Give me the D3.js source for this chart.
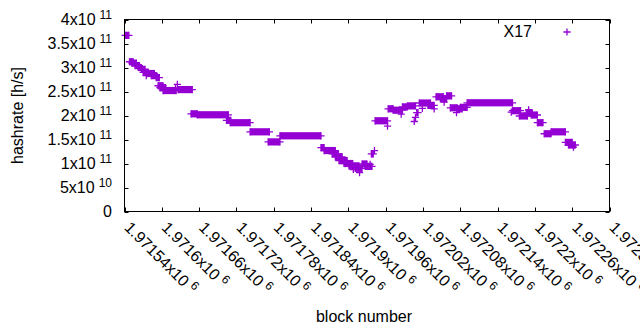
<!DOCTYPE html>
<html>
<head>
<meta charset="utf-8">
<script src="https://cdn.jsdelivr.net/npm/d3@7"></script>
<style>
  body { margin: 0; background: #fff; }
  text { font-family: "Liberation Sans", Arial, sans-serif; fill: #000; }
</style>
</head>
<body>
<svg id="chart"></svg>
<script>
// runs of blocks that share the same hashrate estimate (start block, end block, value)
const runStart = [1971541, 1971548, 1971552, 1971557, 1971562, 1971567, 1971570, 1971575, 1971577, 1971583,
  1971591, 1971594, 1971597, 1971602, 1971625, 1971622, 1971626, 1971647, 1971657, 1971704,
  1971710, 1971742, 1971771, 1971790, 1971856, 1971861, 1971874, 1971879, 1971885, 1971893,
  1971901, 1971908, 1971911, 1971918, 1971922, 1971927, 1971935, 1971937, 1971942, 1971943,
  1971963, 1971964, 1971972, 1971985, 1971987, 1971995, 1972006, 1972008, 1972010, 1972019,
  1972014, 1972028, 1972038, 1972041, 1972048, 1972054, 1972058, 1972064, 1972074, 1972075,
  1972080, 1972091, 1972164, 1972162, 1972175, 1972186, 1972190, 1972194, 1972204, 1972215,
  1972226, 1972249, 1972254, 1972262];
const runEnd = [1971547, 1971554, 1971559, 1971564, 1971567, 1971573, 1971578, 1971575, 1971588, 1971591,
  1971596, 1971602, 1971606, 1971623, 1971625, 1971622, 1971649, 1971657, 1971707, 1971711,
  1971742, 1971773, 1971790, 1971856, 1971861, 1971879, 1971884, 1971890, 1971898, 1971907,
  1971917, 1971908, 1971922, 1971918, 1971930, 1971938, 1971935, 1971940, 1971942, 1971963,
  1971963, 1971972, 1971987, 1971985, 1971995, 1972008, 1972006, 1972008, 1972012, 1972019,
  1972032, 1972038, 1972038, 1972053, 1972058, 1972054, 1972066, 1972075, 1972074, 1972083,
  1972091, 1972164, 1972177, 1972162, 1972188, 1972196, 1972190, 1972204, 1972213, 1972226,
  1972249, 1972260, 1972265, 1972262];
const hashrate = [3.67e11, 3.12e11, 3.09e11, 3.04e11, 3.00e11, 2.96e11, 2.90e11, 2.83e11, 2.875e11, 2.83e11,
  2.79e11, 2.62e11, 2.58e11, 2.52e11, 2.65e11, 2.56e11, 2.54e11, 2.035e11, 2.015e11, 1.90e11,
  1.85e11, 1.66e11, 1.45e11, 1.577e11, 1.33e11, 1.27e11, 1.20e11, 1.14e11, 1.06e11, 1.00e11,
  0.95e11, 0.875e11, 0.90e11, 0.81e11, 0.99e11, 0.94e11, 0.98e11, 1.20e11, 1.27e11, 1.89e11,
  1.78e11, 2.14e11, 2.11e11, 2.03e11, 2.18e11, 2.20e11, 1.875e11, 1.96e11, 2.06e11, 2.15e11,
  2.26e11, 2.21e11, 2.14e11, 2.39e11, 2.35e11, 2.28e11, 2.41e11, 2.16e11, 2.06e11, 2.14e11,
  2.17e11, 2.265e11, 2.10e11, 2.07e11, 1.99e11, 2.05e11, 2.12e11, 2.01e11, 1.85e11, 1.62e11,
  1.66e11, 1.44e11, 1.385e11, 1.34e11];

const xTicks = [1971540, 1971600, 1971660, 1971720, 1971780, 1971840, 1971900, 1971960, 1972020,
  1972080, 1972140, 1972200, 1972260, 1972320];
const xTickLabels = ["1.97154x10^6", "1.9716x10^6", "1.97166x10^6", "1.97172x10^6", "1.97178x10^6",
  "1.97184x10^6", "1.9719x10^6", "1.97196x10^6", "1.97202x10^6", "1.97208x10^6", "1.97214x10^6",
  "1.9722x10^6", "1.97226x10^6", "1.97232x10^6"];
const yTicks = [0, 0.5e11, 1e11, 1.5e11, 2e11, 2.5e11, 3e11, 3.5e11, 4e11];
const yTickLabels = ["0", "5x10^10", "1x10^11", "1.5x10^11", "2x10^11", "2.5x10^11", "3x10^11", "3.5x10^11", "4x10^11"];

const seriesName = "X17";
const color = "#9400d3";

const width = 640, height = 330;
const pLeft = 124.5, pRight = 609.5, pTop = 19.5, pBottom = 211.5;
const r = 3.6;

const svg = d3.select("#chart")
  .attr("width", width)
  .attr("height", height);

const x = d3.scaleLinear().domain([xTicks[0], xTicks[xTicks.length - 1]]).range([pLeft, pRight]);
const y = d3.scaleLinear().domain([0, 4e11]).range([pBottom, pTop]);

// label with superscript part after "^"
function supLabel(sel, label) {
  const parts = label.split("^");
  sel.append("tspan").text(parts[0]);
  if (parts[1]) {
    sel.append("tspan").attr("dx", 4).attr("dy", -6).style("font-size", "12px").text(parts[1]);
  }
}

// ticks on all four sides, pointing in
const tickLen = 4;
const ticks = svg.append("g").attr("stroke", "#000").attr("stroke-width", 1);
yTicks.forEach(v => {
  const yy = Math.round(y(v)) + 0.5;
  ticks.append("line").attr("x1", pLeft).attr("x2", pLeft + tickLen).attr("y1", yy).attr("y2", yy);
  ticks.append("line").attr("x1", pRight).attr("x2", pRight - tickLen).attr("y1", yy).attr("y2", yy);
});
xTicks.forEach(v => {
  const xx = Math.round(x(v)) + 0.5;
  ticks.append("line").attr("x1", xx).attr("x2", xx).attr("y1", pBottom).attr("y2", pBottom - tickLen);
  ticks.append("line").attr("x1", xx).attr("x2", xx).attr("y1", pTop).attr("y2", pTop + tickLen);
});

// y tick labels
yTicks.forEach((v, i) => {
  const t = svg.append("text")
    .attr("x", 112)
    .attr("y", y(v) + 5.5)
    .attr("text-anchor", "end")
    .style("font-size", "16px");
  supLabel(t, yTickLabels[i]);
});

// x tick labels, rotated
xTicks.forEach((v, i) => {
  const t = svg.append("text")
    .attr("transform", `translate(${x(v) - 1},${pBottom + 17}) rotate(45)`)
    .attr("text-anchor", "start")
    .style("font-size", "16px");
  supLabel(t, xTickLabels[i]);
});

// axis titles
svg.append("text")
  .attr("transform", `translate(23,${(pTop + pBottom) / 2}) rotate(-90)`)
  .attr("text-anchor", "middle")
  .style("font-size", "16px")
  .text("hashrate [h/s]");

svg.append("text")
  .attr("x", 364)
  .attr("y", 322)
  .attr("text-anchor", "middle")
  .style("font-size", "16px")
  .text("block number");

// points: overlapping "+" markers along each run
const runs = runStart.map((s, i) => ({ start: s, end: runEnd[i], value: hashrate[i] }));
const pts = svg.append("g");
pts.selectAll("rect")
  .data(runs)
  .enter().append("rect")
  .attr("x", d => x(d.start))
  .attr("width", d => x(d.end) - x(d.start))
  .attr("y", d => y(d.value) - r)
  .attr("height", 2 * r)
  .attr("fill", color);
pts.selectAll("path")
  .data(runs)
  .enter().append("path")
  .attr("d", d => {
    const x1 = x(d.start), x2 = x(d.end), yy = y(d.value);
    return `M${x1 - r},${yy}H${x2 + r}M${x1},${yy - r}V${yy + r}M${x2},${yy - r}V${yy + r}`;
  })
  .attr("fill", "none")
  .attr("stroke", color)
  .attr("stroke-width", 1.3);

// legend
svg.append("text")
  .attr("x", 532)
  .attr("y", 37)
  .attr("text-anchor", "end")
  .style("font-size", "16px")
  .text(seriesName);
svg.append("path")
  .attr("d", `M${567 - r},32H${567 + r}M567,${32 - r}V${32 + r}`)
  .attr("stroke", color)
  .attr("stroke-width", 1.3);

// border
svg.append("rect")
  .attr("x", pLeft).attr("y", pTop)
  .attr("width", pRight - pLeft).attr("height", pBottom - pTop)
  .attr("fill", "none")
  .attr("stroke", "#000")
  .attr("stroke-width", 1);
</script>
</body>
</html>
